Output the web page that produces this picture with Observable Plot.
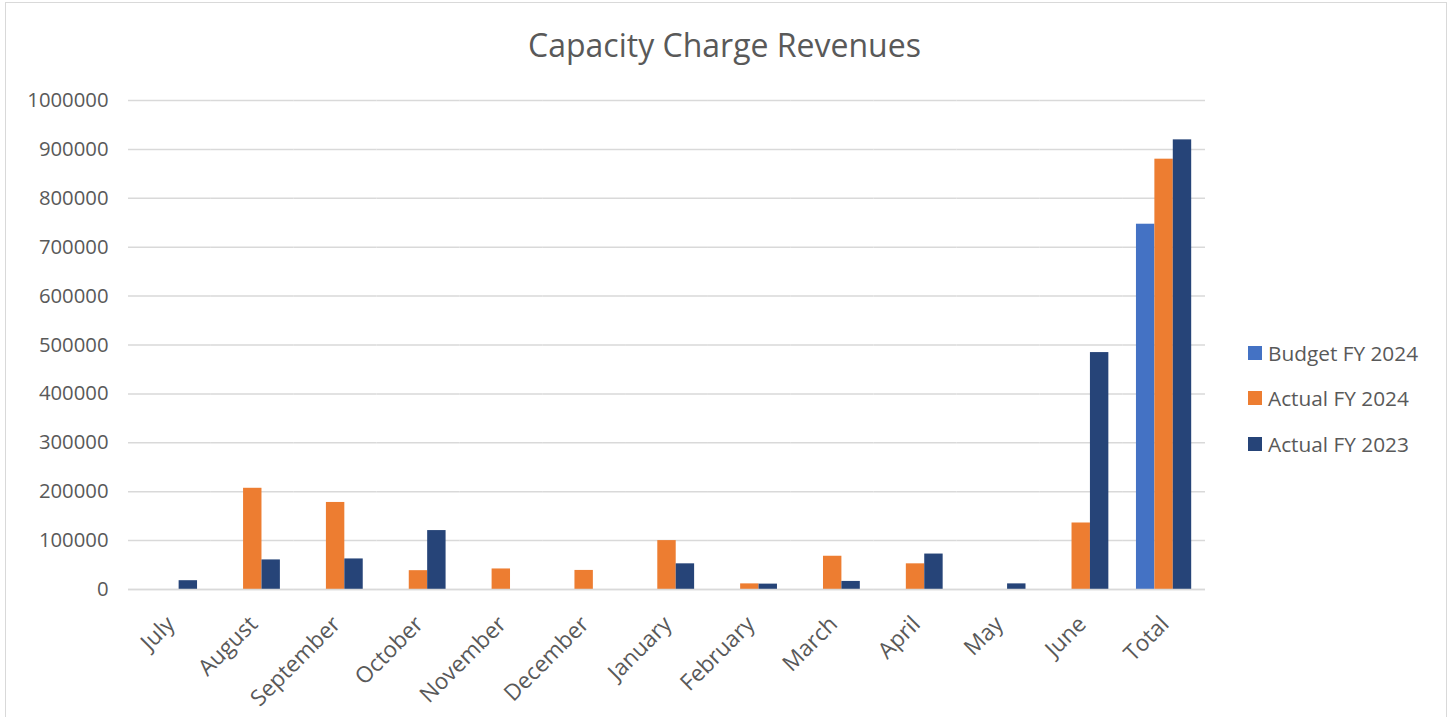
<!DOCTYPE html>
<html>
<head>
<meta charset="utf-8">
<script src="https://cdn.jsdelivr.net/npm/d3@7"></script>
<script src="https://cdn.jsdelivr.net/npm/@observablehq/plot@0.6"></script>
<style>
  html, body { margin: 0; padding: 0; background: #fff; }
  #wrap { position: relative; width: 1449px; height: 717px; overflow: hidden; font-family: "Open Sans", sans-serif; color: #595959; }
  #frame { position: absolute; left: 5px; top: 2px; width: 1442px; height: 730px; border: 1.5px solid #d9d9d9; box-sizing: border-box; }
  #title { position: absolute; left: 0; width: 1449px; top: 23px; text-align: center; font-size: 32px; line-height: 44px; color: #595959; }
  #chart { position: absolute; left: 0; top: 0; }
  #legend { position: absolute; left: 1248px; top: 330px; font-size: 20.8px; }
  .item { display: flex; align-items: center; height: 45.5px; }
  .sw { width: 14px; height: 14px; margin-right: 6px; }
</style>
</head>
<body>
<div id="wrap">
  <div id="frame"></div>
  <div id="chart"></div>
  <div id="title">Capacity Charge Revenues</div>
  <div id="legend"></div>
</div>
<script>
const months = ["July","August","September","October","November","December","January","February","March","April","May","June","Total"];
const seriesNames = ["Budget FY 2024","Actual FY 2024","Actual FY 2023"];
const seriesColors = ["#4472C4","#ED7D31","#264478"];
const budgetFY2024 = [null,null,null,null,null,null,null,null,null,null,null,null,747000];
const actualFY2024 = [null,207000,178000,38500,42000,39000,100000,11500,68000,52500,null,136000,880000];
const actualFY2023 = [18000,60500,62500,120500,null,null,52500,11000,16500,72500,11500,484500,919500];
const yTicks = [0,100000,200000,300000,400000,500000,600000,700000,800000,900000,1000000];

const seriesValues = [budgetFY2024, actualFY2024, actualFY2023];
const data = [];
months.forEach((m, i) => {
  seriesNames.forEach((s, j) => {
    const v = seriesValues[j][i];
    if (v != null) data.push({month: m, series: s, value: v});
  });
});

const chart = Plot.plot({
  width: 1449,
  height: 717,
  marginLeft: 128,
  marginRight: 244,
  marginTop: 100,
  marginBottom: 128,
  style: {fontFamily: "Open Sans, sans-serif", fontSize: "20.3px", color: "#595959", background: "transparent"},
  fx: {domain: months, padding: 0, round: false, label: null},
  x: {domain: seriesNames, paddingInner: 0, paddingOuter: 0.75, round: false, axis: null},
  y: {domain: [0, 1000000], label: null},
  color: {domain: seriesNames, range: seriesColors},
  marks: [
    Plot.gridY(yTicks, {stroke: "#d9d9d9", strokeOpacity: 1, strokeWidth: 1.5}),
    Plot.axisY(yTicks, {tickSize: 0, tickPadding: 20, tickFormat: d3.format("d"), label: null, fill: "#595959"}),
    Plot.barY(data, {fx: "month", x: "series", y: "value", fill: "series"}),
    Plot.ruleY([0], {stroke: "#d9d9d9", strokeWidth: 1.5}),
    Plot.axisFx({anchor: "bottom", tickSize: 0, tickRotate: -45, tickPadding: 22, dx: 1, dy: 9, fontSize: 22.5, label: null, fill: "#595959"})
  ]
});
document.getElementById("chart").appendChild(chart);

const legend = document.getElementById("legend");
seriesNames.forEach((s, i) => {
  const item = document.createElement("div");
  item.className = "item";
  const sw = document.createElement("div");
  sw.className = "sw";
  sw.style.background = seriesColors[i];
  const t = document.createElement("span");
  t.textContent = s;
  item.appendChild(sw);
  item.appendChild(t);
  legend.appendChild(item);
});
</script>
</body>
</html>
